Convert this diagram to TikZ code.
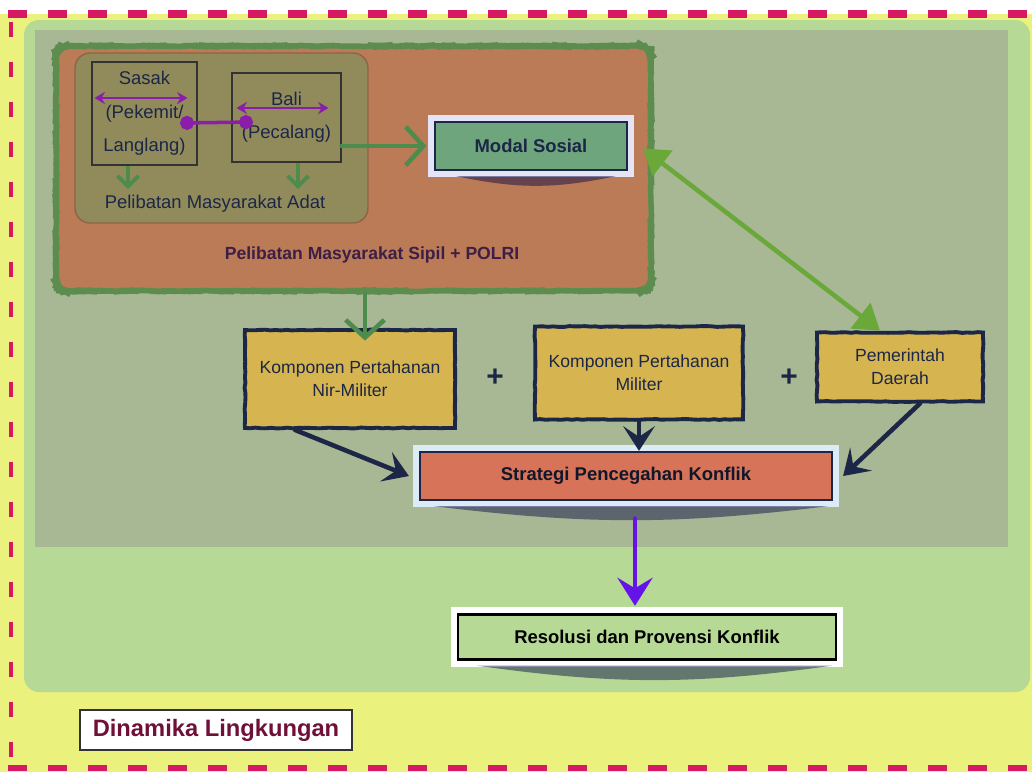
\documentclass[tikz,border=0pt]{standalone}
\usepackage{fontspec}
\setmainfont{Liberation Sans}
\usetikzlibrary{positioning,arrows.meta,decorations.pathmorphing}

\definecolor{bgyellow}{RGB}{235,241,125}
\definecolor{pinkdash}{RGB}{215,25,100}
\definecolor{lightgreen}{RGB}{182,218,150}
\definecolor{greygreen}{RGB}{168,183,148}
\definecolor{sipilorange}{RGB}{186,123,86}
\definecolor{sipilborder}{RGB}{92,140,78}
\definecolor{adatolive}{RGB}{145,139,92}
\definecolor{adatborder}{RGB}{140,100,70}
\definecolor{modalgreen}{RGB}{110,165,125}
\definecolor{boxyellow}{RGB}{214,181,80}
\definecolor{strategired}{RGB}{214,115,88}
\definecolor{navy}{RGB}{28,38,70}
\definecolor{darkgreen}{RGB}{78,140,78}
\definecolor{brightgreen}{RGB}{106,168,58}
\definecolor{adatpurple}{RGB}{138,30,170}
\definecolor{violet}{RGB}{100,20,230}
\definecolor{maroon}{RGB}{110,16,55}
\definecolor{lavender}{RGB}{228,228,246}
\definecolor{paleblue}{RGB}{220,236,246}

\tikzset{>=latex,
  roughline/.style={decorate, decoration={random steps, segment length=3pt, amplitude=0.25pt}},
  smallbox/.style={draw=black!80, line width=0.6pt, align=center, text=navy,
    font=\fontsize{10.5}{19}\selectfont},
  compbox/.style={draw=navy, line width=2.2pt, fill=boxyellow, align=center, text=navy,
    font=\fontsize{10}{13}\selectfont, roughline},
  framebox/.style={draw=navy, line width=1.3pt, fill=#1, font=\bfseries\fontsize{10.5}{12}\selectfont},
  boxshadow/.style={fill=black!75!blue, opacity=0.45},
  chalkarrow/.style={line width=2.6pt, line cap=round},
}

\begin{document}
\begin{tikzpicture}[x=0.02cm, y=-0.02cm]
  \useasboundingbox (0,0) rectangle (1032,772);
  % background and frames
  \fill[white] (0,0) rectangle (1032,772);
  \fill[bgyellow] (0,14) rectangle (1032,772);
  \fill[lightgreen, rounded corners=0.3cm] (24,20) rectangle (1030,692);
  \fill[greygreen] (35,30) rectangle (1008,547);
  \draw[pinkdash, line width=4.5pt, dash pattern=on 0.38cm off 0.42cm] (8,14) -- (1040,14);
  \draw[pinkdash, line width=2.4pt, dash pattern=on 0.3cm off 0.5cm] (11,22) -- (11,768);
  \draw[pinkdash, line width=3pt, dash pattern=on 0.38cm off 0.42cm] (8,768) -- (1040,768);

  % containers
  \node[draw=sipilborder, line width=3pt, fill=sipilorange, rounded corners=0.25cm, roughline,
    minimum width=11.9cm, minimum height=4.9cm] (sipil) at (353.5,168.5) {};
  \node[draw=adatborder, line width=0.8pt, fill=adatolive, rounded corners=0.3cm,
    minimum width=5.86cm, minimum height=3.4cm] (adatbox) at (221.5,138) {};
  \node[font=\bfseries\fontsize{10}{12}\selectfont, text=navy!80!purple] (sipillabel) at (372,255) {Pelibatan Masyarakat Sipil + POLRI};

  % adat part
  \node[smallbox, minimum width=2.1cm, minimum height=2.06cm] (sasak) at (144.5,113.5) {Sasak\\(Pekemit/\\Langlang)};
  \node[smallbox, minimum width=2.18cm, minimum height=1.78cm] (bali) at (286.5,117.5) {Bali\\(Pecalang)};
  \node[text=navy, font=\fontsize{10.5}{12}\selectfont] (adat) at (215,204) {Pelibatan Masyarakat Adat};
  \coordinate (pekemit) at (180,123);
  \coordinate (pecalang) at (253,122);

  \draw[adatpurple, line width=1.4pt, {Stealth[length=6pt,width=7pt]}-{Stealth[length=6pt,width=7pt]}]
    ([shift={(0.06cm,0.31cm)}]sasak.west) -- ([shift={(-0.2cm,0.31cm)}]sasak.east);
  \draw[adatpurple, line width=1.4pt, {Stealth[length=6pt,width=7pt]}-{Stealth[length=6pt,width=7pt]}]
    ([shift={(0.1cm,0.19cm)}]bali.west) -- ([shift={(-0.26cm,0.19cm)}]bali.east);
  \draw[adatpurple, line width=2pt, {Circle[length=8pt]}-{Circle[length=8pt]}] (pekemit) -- (pecalang);
  \draw[darkgreen, line width=2.2pt, -{Straight Barb[length=6pt,width=12pt]}]
    ([xshift=-0.33cm]sasak.south) -- ([xshift=-0.33cm]sasak.south |- adat.north);
  \draw[darkgreen, line width=2.2pt, -{Straight Barb[length=6pt,width=12pt]}]
    ([xshift=0.23cm]bali.south) -- ([xshift=0.23cm]bali.south |- adat.north);

  % modal sosial
  \node[framebox=modalgreen, text=navy, preaction={draw=lavender, line width=8pt},
    minimum width=3.84cm, minimum height=0.96cm] (modal) at (531,146) {Modal Sosial};
  \fill[boxshadow] ([xshift=0.45cm,yshift=-0.1cm]modal.south west) to[bend right=12] ([xshift=-0.25cm,yshift=-0.1cm]modal.south east) -- cycle;
  \draw[darkgreen, chalkarrow, -{Straight Barb[length=10pt,width=22pt]}] (bali.east |- modal.west) -- ([xshift=-0.15cm]modal.west);

  % components
  \node[compbox, minimum width=4.2cm, minimum height=1.96cm] (nirmiliter) at (350,379) {Komponen Pertahanan\\Nir-Militer};
  \node[compbox, minimum width=4.16cm, minimum height=1.86cm] (militer) at (639,373) {Komponen Pertahanan\\Militer};
  \node[compbox, minimum width=3.32cm, minimum height=1.38cm] (pemda) at (900,367) {Pemerintah\\Daerah};
  \node[font=\bfseries\fontsize{17}{17}\selectfont, text=navy] (plusA) at (495,378) {+};
  \node[font=\bfseries\fontsize{17}{17}\selectfont, text=navy] (plusB) at (789,378) {+};

  \draw[darkgreen, chalkarrow, -{Straight Barb[length=10pt,width=22pt]}]
    ([xshift=0.3cm]nirmiliter.north |- sipil.south) -- ([xshift=0.3cm,yshift=-0.25cm]nirmiliter.north);
  \draw[brightgreen, chalkarrow, {Triangle[length=14pt,width=18pt]}-{Triangle[length=14pt,width=18pt]}]
    ([shift={(0.3cm,-0.05cm)}]modal.east) -- ([xshift=-0.4cm]pemda.north);

  % strategi
  \node[framebox=strategired, text=navy!60!black, preaction={draw=paleblue, line width=8pt},
    minimum width=8.24cm, minimum height=0.96cm] (strategi) at (626,476) {Strategi Pencegahan Konflik};
  \fill[boxshadow] ([xshift=0.3cm,yshift=-0.1cm]strategi.south west) to[bend right=7] ([xshift=-0.1cm,yshift=-0.1cm]strategi.south east) -- cycle;
  \draw[navy, chalkarrow, -{Stealth[length=14pt,width=18pt,inset=6pt]}]
    ([xshift=-1.1cm]nirmiliter.south) -- ([xshift=-0.2cm]strategi.west);
  \draw[navy, chalkarrow, -{Stealth[length=14pt,width=18pt,inset=6pt]}]
    (militer.south) -- (militer.south |- strategi.north);
  \draw[navy, chalkarrow, -{Stealth[length=14pt,width=18pt,inset=6pt]}]
    ([xshift=0.4cm]pemda.south) -- ([xshift=0.2cm]strategi.east);

  % resolusi
  \node[framebox=lightgreen, draw=black, text=black, preaction={draw=white, line width=8pt},
    minimum width=7.56cm, minimum height=0.9cm] (resolusi) at (647,637) {Resolusi dan Provensi Konflik};
  \fill[boxshadow] ([xshift=0.4cm,yshift=-0.1cm]resolusi.south west) to[bend right=8] ([xshift=-0.1cm,yshift=-0.1cm]resolusi.south east) -- cycle;
  \draw[violet, chalkarrow, shorten <=0.35cm, -{Stealth[length=16pt,width=20pt,inset=6pt]}]
    ([xshift=0.18cm]strategi.south) -- ([xshift=0.18cm,yshift=0.15cm]strategi.south |- resolusi.north);

  % label
  \node[draw=black!80, line width=0.7pt, fill=white, text=maroon, font=\bfseries\fontsize{13.5}{15}\selectfont,
    minimum width=5.44cm, minimum height=0.8cm] (dinamika) at (216,730) {Dinamika Lingkungan};
\end{tikzpicture}
\end{document}
